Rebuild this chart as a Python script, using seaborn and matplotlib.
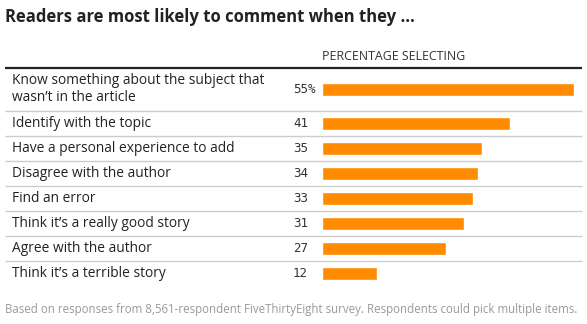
import matplotlib
matplotlib.use("Agg")
import matplotlib.pyplot as plt
import matplotlib.transforms as mtransforms
import seaborn as sns
import numpy as np

categories = [
    "Know something about the subject that\nwasn\u2019t in the article",
    "Identify with the topic",
    "Have a personal experience to add",
    "Disagree with the author",
    "Find an error",
    "Think it\u2019s a really good story",
    "Agree with the author",
    "Think it\u2019s a terrible story",
]
values = [55, 41, 35, 34, 33, 31, 27, 12]
value_labels = ["55%", "41", "35", "34", "33", "31", "27", "12"]

title = "Readers are most likely to comment when they \u2026"
header = "PERCENTAGE SELECTING"
footnote = ("Based on responses from 8,561-respondent FiveThirtyEight survey. "
            "Respondents could pick multiple items.")

sns.set_theme(style="white")
plt.rcParams['font.family'] = ['Open Sans', 'DejaVu Sans']

W, H = 587, 324
fig = plt.figure(figsize=(W / 100, H / 100), dpi=100)
ax = fig.add_axes([0, 0, 1, 1])

# layout (pixels)
top_line = 68
first_row_h = 43.3
row_h = 24.9
bar_x0 = 322
px_per_unit = 4.58

row_heights = [first_row_h] + [row_h] * (len(categories) - 1)
edges = top_line + np.concatenate([[0], np.cumsum(row_heights)])
centers = (edges[:-1] + edges[1:]) / 2
centers[0] -= 0.5

sns.barplot(x=values, y=centers, orient="h", native_scale=True,
            color="#FF8B00", saturation=1, width=12.7 / row_h, ax=ax)

ax.set_xlim(-bar_x0 / px_per_unit, (W - bar_x0) / px_per_unit)
ax.set_ylim(H, 0)
ax.axis("off")

blend = mtransforms.blended_transform_factory(ax.transAxes, ax.transData)

# lines
ax.plot([5 / W, 582 / W], [top_line, top_line], transform=blend,
        color="#222222", lw=1.6, solid_capstyle="butt")
for e in edges[1:-1]:
    ax.plot([5 / W, 582 / W], [e, e], transform=blend,
            color="#cccccc", lw=1.0, solid_capstyle="butt")

for c, cat, vl in zip(centers, categories, value_labels):
    ax.text(12 / W, c, cat, transform=blend, ha="left", va="center",
            fontsize=9.9, color="#222222", linespacing=1.15)
    ax.text(293 / W, c, vl, transform=blend, ha="left", va="center",
            fontsize=9.0, color="#333333", family=["DejaVu Sans Mono"])

fig.text(5 / W, 1 - 17 / H, title, ha="left", va="center",
         fontsize=12.0, fontweight="bold", color="#222222")
fig.text(322 / W, 1 - 57 / H, header, ha="left", va="center",
         fontsize=8.9, color="#333333")
fig.text(5 / W, 1 - 310 / H, footnote, ha="left", va="center",
         fontsize=8.3, color="#999999")

fig.savefig("out.png", dpi=100)
